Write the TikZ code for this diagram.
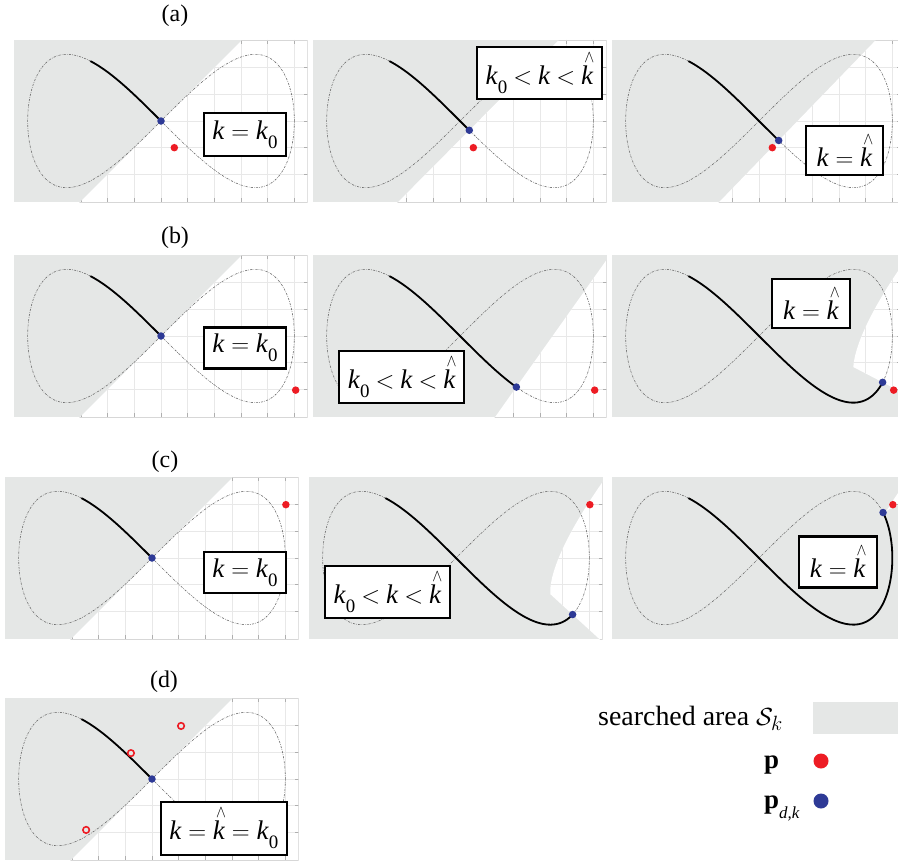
\documentclass[tikz,border=0pt]{standalone}
\usepackage{fontspec}
\setmainfont{Liberation Serif}
\usepackage{graphicx}
\definecolor{areagray}{RGB}{229,231,230}
\definecolor{pblue}{RGB}{46,58,150}
\definecolor{pred}{RGB}{237,28,36}
\definecolor{gridc}{RGB}{232,232,232}
\definecolor{tickc}{RGB}{175,175,175}
\definecolor{framec}{RGB}{215,215,215}
\definecolor{curvec}{RGB}{110,110,110}

\newcommand{\myk}{\textit{k}}
\newcommand{\myko}{\textit{k}\raisebox{-0.32em}{\fontsize{19}{19}\selectfont 0}}
\newcommand{\mykh}{\textit{k}\makebox[0pt][r]{\raisebox{0.82em}{\scalebox{0.6}[0.7]{$\wedge$}}\kern-0.03em}}
\newcommand{\myeq}{\kern0.25em$=$\kern0.25em}
\newcommand{\mylt}{\kern0.22em$<$\kern0.22em}

\newcommand{\hclip}[1]{%
  \pgfmathsetmacro\hpx{5*cos(#1)}%
  \pgfmathsetmacro\hpy{2.5*sin(2*(#1))}%
  \pgfmathsetmacro\htx{-5*sin(#1)}%
  \pgfmathsetmacro\hty{5*cos(2*(#1))}%
  \pgfmathsetmacro\htn{sqrt((\htx)*(\htx)+(\hty)*(\hty))}%
  \pgfmathsetmacro\hux{30*(\htx)/(\htn)}%
  \pgfmathsetmacro\huy{30*(\hty)/(\htn)}%
  \pgfmathsetmacro\hax{\hpx-(\huy)}%
  \pgfmathsetmacro\hay{\hpy+(\hux)}%
  \pgfmathsetmacro\hbx{\hpx-(\huy)+(\hux)}%
  \pgfmathsetmacro\hby{\hpy+(\hux)+(\huy)}%
  \pgfmathsetmacro\hcx{\hpx+(\huy)+(\hux)}%
  \pgfmathsetmacro\hcy{\hpy-(\hux)+(\huy)}%
  \pgfmathsetmacro\hdx{\hpx+(\huy)}%
  \pgfmathsetmacro\hdy{\hpy-(\hux)}%
  \clip (\hax,\hay) -- (\hbx,\hby) -- (\hcx,\hcy) -- (\hdx,\hdy) -- cycle;}

% #1 xmin, #2 xmax, #3 tend, #4 list of t for half-planes
\newcommand{\panelbg}[4]{%
  \fill[areagray] (#1,-3.04) rectangle (#2,3.04);
  \begin{scope}
    \clip (#1,-3.04) rectangle (#2,3.04);
    \foreach \hv in {#4}{\hclip{\hv}}
    \fill[white] (#1,-3.04) rectangle (#2,3.04);
    \foreach \gx in {-5,...,5}{%
      \draw[gridc,line width=0.6bp] (\gx,-3.04) -- (\gx,3.04);
      \draw[tickc,line width=0.6bp] (\gx,-3.04) -- (\gx,-2.9);
      \draw[tickc,line width=0.6bp] (\gx,3.04) -- (\gx,2.9);}
    \foreach \gy in {-2,...,2}{%
      \draw[gridc,line width=0.6bp] (#1,\gy) -- (#2,\gy);
      \draw[tickc,line width=0.6bp] (#1,\gy) -- ++(0.14,0);
      \draw[tickc,line width=0.6bp] (#2,\gy) -- ++(-0.14,0);}
    \draw[framec,line width=0.8bp] (#1,-3.04) rectangle (#2,3.04);
  \end{scope}
  \draw[curve] plot[domain=0:360,samples=241,smooth] ({5*cos(\x)},{2.5*sin(2*\x)});
  \draw[traj] plot[domain=238:#3,samples=60,smooth] ({5*cos(\x)},{2.5*sin(2*\x)});
}

\begin{document}
\begin{tikzpicture}[x=1bp,y=-1bp,
  bdot/.style={circle,fill=pblue,inner sep=0pt,minimum size=7.5bp},
  rdot/.style={circle,fill=pred,inner sep=0pt,minimum size=7.5bp},
  rring/.style={circle,draw=pred,line width=1.6bp,inner sep=0pt,minimum size=6.5bp},
  lab/.style={draw=black,line width=2.2bp,fill=white,inner sep=0pt,font=\fontsize{27}{30}\selectfont},
  ttl/.style={inner sep=0pt,font=\fontsize{24}{26}\selectfont},
  curve/.style={draw=curvec,line width=0.6bp,dash pattern=on 2.2bp off 1.2bp on 0.6bp off 1.2bp},
  traj/.style={draw=black,line width=1.8bp},
  panel/.style 2 args={shift={(#1,#2)},x=26.667bp,y=26.667bp}]
\useasboundingbox (0,0) rectangle (898,863);
\fill[white] (0,0) rectangle (898,863);

% titles
\node[ttl] (ta) at (175,16) {(a)};
\node[ttl] (tb) at (175,238) {(b)};
\node[ttl] (tc) at (165,462) {(c)};
\node[ttl] (td) at (164,682) {(d)};

% ---- row (a)
\begin{scope}[panel={161}{121}]
  \panelbg{-5.5}{5.5}{270}{270}
  \node[rdot] (a1p) at (0.5,-1.0) {};
  \node[bdot] (a1b) at ({5*cos(270)},{2.5*sin(540)}) {};
\end{scope}
\node[lab,minimum width=82bp,minimum height=43bp] (a1l) at (245,134.7) {\myk\myeq\myko};

\begin{scope}[panel={460}{121}]
  \panelbg{-5.5}{5.5}{274}{270,271,...,274}
  \node[rdot] (a2p) at (0.5,-1.0) {};
  \node[bdot] (a2b) at ({5*cos(274)},{2.5*sin(548)}) {};
\end{scope}
\node[lab,minimum width=125bp,minimum height=52bp] (a2l) at (539.5,73) {\myko\mylt\myk\mylt\mykh};

\begin{scope}[panel={759}{121}]
  \panelbg{-5.5}{5.3}{278.5}{270,271,...,278,278.5}
  \node[rdot] (a3p) at (0.5,-1.0) {};
  \node[bdot] (a3b) at ({5*cos(278.5)},{2.5*sin(557)}) {};
\end{scope}
\node[lab,minimum width=77bp,minimum height=49bp] (a3l) at (844.5,150.5) {\myk\myeq\mykh};

% ---- row (b)
\begin{scope}[panel={161}{336}]
  \panelbg{-5.5}{5.5}{270}{270}
  \node[rdot] (b1p) at (5.05,-2.03) {};
  \node[bdot] (b1b) at ({5*cos(270)},{2.5*sin(540)}) {};
\end{scope}
\node[lab,minimum width=82bp,minimum height=41bp] (b1l) at (245,348) {\myk\myeq\myko};

\begin{scope}[panel={460}{336}]
  \panelbg{-5.5}{5.5}{295}{270,271,...,295}
  \node[rdot] (b2p) at (5.05,-2.03) {};
  \node[bdot] (b2b) at ({5*cos(295)},{2.5*sin(590)}) {};
\end{scope}
\node[lab,minimum width=125bp,minimum height=52bp] (b2l) at (401.8,377.2) {\myko\mylt\myk\mylt\mykh};

\begin{scope}[panel={759}{336}]
  \panelbg{-5.5}{5.3}{338}{270,271,...,338}
  \node[rdot] (b3p) at (5.05,-2.03) {};
  \node[bdot] (b3b) at ({5*cos(338)},{2.5*sin(676)}) {};
\end{scope}
\node[lab,minimum width=78bp,minimum height=49bp] (b3l) at (811,303.3) {\myk\myeq\mykh};

% ---- row (c)
\begin{scope}[panel={152}{558}]
  \panelbg{-5.5}{5.5}{270}{270}
  \node[rdot] (c1p) at (5.02,2.0) {};
  \node[bdot] (c1b) at ({5*cos(270)},{2.5*sin(540)}) {};
\end{scope}
\node[lab,minimum width=82bp,minimum height=41bp] (c1l) at (245,572.8) {\myk\myeq\myko};

\begin{scope}[panel={456}{558}]
  \panelbg{-5.5}{5.5}{331}{270,271,...,331}
  \node[rdot] (c2p) at (5.02,2.0) {};
  \node[bdot] (c2b) at ({5*cos(331)},{2.5*sin(662)}) {};
\end{scope}
\node[lab,minimum width=125bp,minimum height=52bp] (c2l) at (387.5,592.2) {\myko\mylt\myk\mylt\mykh};

\begin{scope}[panel={759}{558}]
  \panelbg{-5.5}{5.3}{381.5}{270,271,...,381,381.5}
  \node[rdot] (c3p) at (5.02,2.0) {};
  \node[bdot] (c3b) at ({5*cos(381.5)},{2.5*sin(763)}) {};
\end{scope}
\node[lab,minimum width=78bp,minimum height=51bp] (c3l) at (837.8,562) {\myk\myeq\mykh};

% ---- row (d)
\begin{scope}[panel={152}{779}]
  \panelbg{-5.5}{5.5}{270}{270}
  \node[rring] (d1p) at (1.09,1.99) {};
  \node[rring] (d2p) at (-0.79,0.97) {};
  \node[rring] (d3p) at (-2.47,-1.91) {};
  \node[bdot] (d1b) at ({5*cos(270)},{2.5*sin(540)}) {};
\end{scope}
\node[lab,minimum width=126bp,minimum height=53bp] (dl) at (223.8,828.3) {\myk\myeq\mykh\myeq\myko};

% ---- legend
\node[anchor=base west,inner sep=0pt,font=\fontsize{28}{30}\selectfont] (legS) at (598,725) {searched area $\mathcal{S}_k$};
\fill[areagray] (813,702) rectangle (898,734);
\node[anchor=base west,inner sep=0pt,font=\fontsize{27}{30}\selectfont\bfseries] (legp) at (764,768) {p};
\node[rdot,minimum size=15bp] (legr) at (821,761) {};
\node[anchor=base west,inner sep=0pt,font=\fontsize{27}{30}\selectfont] (legpd) at (764,808) {\textbf{p}\raisebox{-0.38em}{\fontsize{17}{17}\selectfont\itshape d,k}};
\node[bdot,minimum size=15bp] (legb) at (821,801) {};
\end{tikzpicture}
\end{document}
